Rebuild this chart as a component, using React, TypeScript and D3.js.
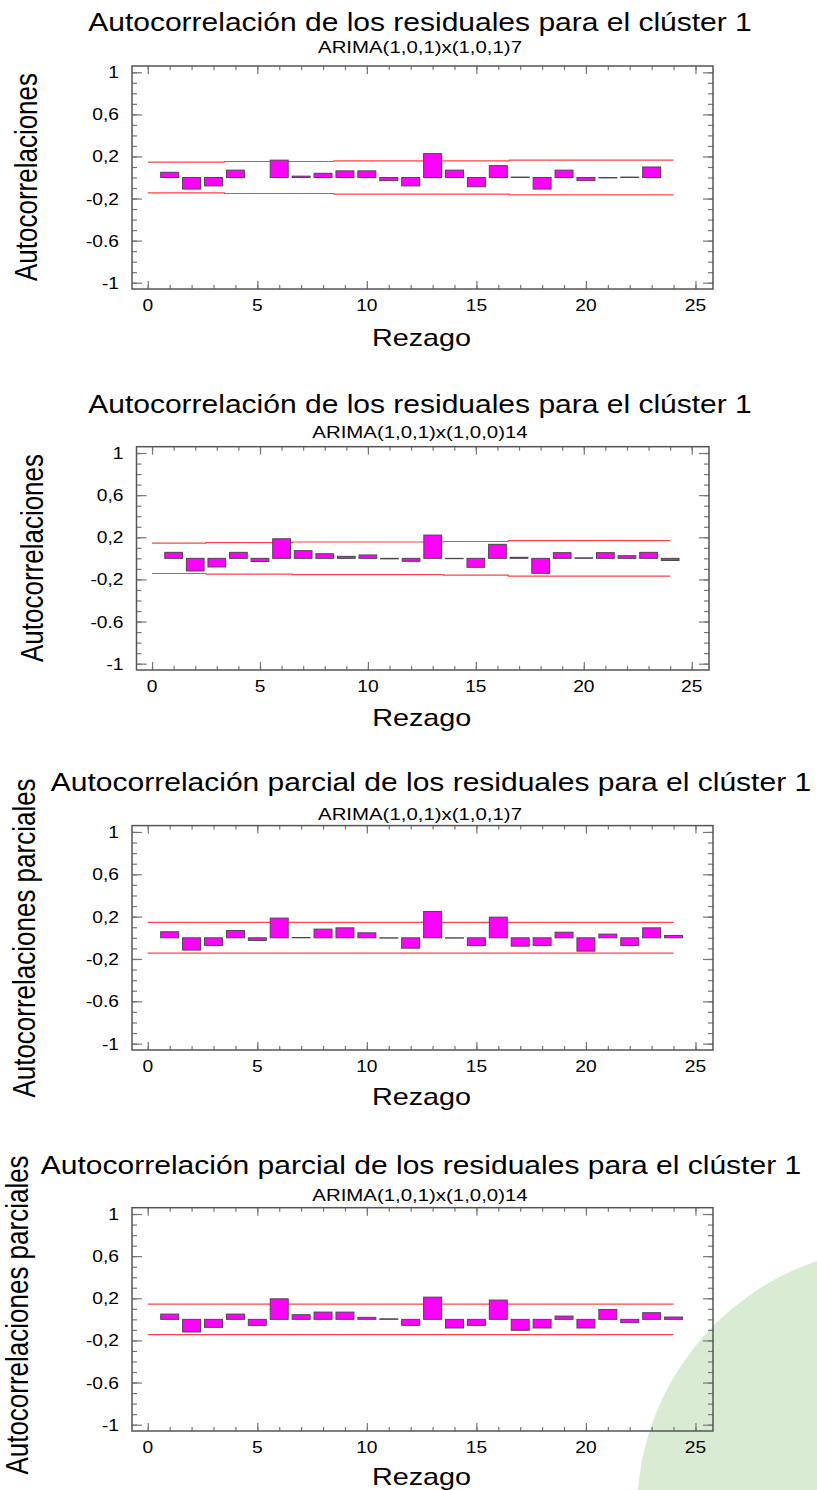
import React, { useRef, useEffect } from 'react';
import * as d3 from 'd3';

// lags 1..24
const lags = [1, 2, 3, 4, 5, 6, 7, 8, 9, 10, 11, 12, 13, 14, 15, 16, 17, 18, 19, 20, 21, 22, 23, 24];

// residual autocorrelations, ARIMA(1,0,1)x(1,0,1)7  (23 lags shown)
const acf1 = [0.05, -0.11, -0.08, 0.07, 0.0, 0.165, 0.013, 0.04, 0.063, 0.063, -0.03, -0.08, 0.227, 0.07, -0.088, 0.113, 0.004, -0.11, 0.07, -0.03, -0.004, 0.004, 0.1];
// residual autocorrelations, ARIMA(1,0,1)x(1,0,0)14
const acf2 = [0.057, -0.12, -0.082, 0.057, -0.03, 0.186, 0.073, 0.044, 0.019, 0.032, -0.005, -0.028, 0.221, -0.003, -0.085, 0.133, 0.01, -0.142, 0.054, 0.005, 0.054, 0.025, 0.057, -0.02];
// partial autocorrelations
const pacf1 = [0.057, -0.116, -0.072, 0.069, -0.025, 0.186, 0.003, 0.082, 0.094, 0.047, -0.003, -0.098, 0.248, -0.003, -0.072, 0.195, -0.079, -0.072, 0.053, -0.126, 0.035, -0.072, 0.094, 0.022];
const pacf2 = [0.05, -0.12, -0.076, 0.05, -0.057, 0.195, 0.044, 0.069, 0.069, 0.019, 0.005, -0.057, 0.211, -0.082, -0.057, 0.183, -0.104, -0.082, 0.031, -0.082, 0.094, -0.032, 0.063, 0.022];

// probability limits per lag
const lim1 = [0.146, 0.146, 0.146, 0.152, 0.152, 0.152, 0.152, 0.152, 0.158, 0.158, 0.158, 0.158, 0.158, 0.158, 0.158, 0.158, 0.166, 0.166, 0.166, 0.166, 0.166, 0.166, 0.166, 0.166];
const lim2 = [0.144, 0.144, 0.15, 0.15, 0.15, 0.15, 0.155, 0.155, 0.155, 0.155, 0.155, 0.155, 0.155, 0.16, 0.16, 0.16, 0.168, 0.168, 0.168, 0.168, 0.168, 0.168, 0.168, 0.168];
const limP = [0.145, 0.145, 0.145, 0.145, 0.145, 0.145, 0.145, 0.145, 0.145, 0.145, 0.145, 0.145, 0.145, 0.145, 0.145, 0.145, 0.145, 0.145, 0.145, 0.145, 0.145, 0.145, 0.145, 0.145];

const yTickValues = [1, 0.6, 0.2, -0.2, -0.6, -1];
const yTickLabels = ['1', '0,6', '0,2', '-0,2', '-0.6', '-1'];
const xTickValues = [0, 5, 10, 15, 20, 25];

const titleAcf = 'Autocorrelación de los residuales para el clúster 1';
const titlePacf = 'Autocorrelación parcial de los residuales para el clúster 1';
const sub1 = 'ARIMA(1,0,1)x(1,0,1)7';
const sub2 = 'ARIMA(1,0,1)x(1,0,0)14';

const panels = [
  { title: titleAcf, sub: sub1, ylab: 'Autocorrelaciones', values: acf1, limits: lim1,
    box: [132, 713, 66, 289], titleX: 420, titleY: 31, subY: 53, ylabX: 37, ylabY: 177, xlabY: 346 },
  { title: titleAcf, sub: sub2, ylab: 'Autocorrelaciones', values: acf2, limits: lim2,
    box: [136.5, 709, 446.7, 670], titleX: 420, titleY: 413, subY: 438, ylabX: 43, ylabY: 558, xlabY: 726 },
  { title: titlePacf, sub: sub1, ylab: 'Autocorrelaciones parciales', values: pacf1, limits: limP,
    box: [132, 713, 825.6, 1050], titleX: 431, titleY: 791, subY: 820, ylabX: 35, ylabY: 938, xlabY: 1105 },
  { title: titlePacf, sub: sub2, ylab: 'Autocorrelaciones parciales', values: pacf2, limits: limP,
    box: [132, 713, 1207.7, 1431], titleX: 421, titleY: 1174, subY: 1201, ylabX: 27.5, ylabY: 1315, xlabY: 1485 },
];

const SX = 1.2; // horizontal stretch of the original picture
const FONT = 'Liberation Sans, Arial, sans-serif';

const App = () => {
  const ref = useRef(null);

  useEffect(() => {
    const svg = d3.select(ref.current);
    svg.selectAll('*').remove();

    svg.append('circle')
      .attr('cx', 902).attr('cy', 1512).attr('r', 265)
      .attr('fill', '#d9ecd3');

    const text = (g, x, y, str, size, anchor, rot = false) =>
      g.append('text')
        .attr('transform', `translate(${x},${y}) scale(${SX},1)${rot ? ' rotate(-90)' : ''}`)
        .attr('text-anchor', anchor)
        .attr('font-family', FONT)
        .attr('font-size', size)
        .attr('fill', '#000')
        .text(str);

    panels.forEach((p) => {
      const [left, right, top, bottom] = p.box;
      const g = svg.append('g');

      const x = d3.scaleLinear().domain([-0.72, 25.8]).range([left, right]);
      const y = d3.scaleLinear().domain([-1.06, 1.06]).range([bottom, top]);

      // ticks on all four sides, pointing inward
      const minorY = y.ticks(20);
      const minorX = x.ticks(26).filter((d) => d >= 0);
      const addAxis = (axis, tx, ty, vals, size) => {
        const a = g.append('g')
          .attr('transform', `translate(${tx},${ty})`)
          .call(axis.tickValues(vals).tickSize(size).tickFormat(''));
        a.select('.domain').remove();
        a.selectAll('line').attr('stroke', '#777').attr('stroke-width', 1.2);
      };
      addAxis(d3.axisLeft(y), left, 0, minorY, -5);
      addAxis(d3.axisLeft(y), left, 0, yTickValues, -10);
      addAxis(d3.axisRight(y), right, 0, minorY, -5);
      addAxis(d3.axisRight(y), right, 0, yTickValues, -10);
      addAxis(d3.axisBottom(x), 0, bottom, minorX, -4);
      addAxis(d3.axisBottom(x), 0, bottom, xTickValues, -8);
      addAxis(d3.axisTop(x), 0, top, minorX, -4);
      addAxis(d3.axisTop(x), 0, top, xTickValues, -8);

      // frame
      g.append('rect')
        .attr('x', left).attr('y', top)
        .attr('width', right - left).attr('height', bottom - top)
        .attr('fill', 'none').attr('stroke', '#555').attr('stroke-width', 1.5);

      // probability limits
      const pts = p.limits.map((v, i) => [i === 0 ? 0 : lags[i] - 0.5, v]);
      pts.push([24, p.limits[p.limits.length - 1]]);
      const step = d3.line().curve(d3.curveStepAfter).x((d) => x(d[0]));
      g.append('path').attr('d', step.y((d) => y(d[1]))(pts))
        .attr('fill', 'none').attr('stroke', '#f44').attr('stroke-width', 1.2);
      g.append('path').attr('d', step.y((d) => y(-d[1]))(pts))
        .attr('fill', 'none').attr('stroke', '#f44').attr('stroke-width', 1.2);

      // bars
      const bw = 0.82;
      g.selectAll('rect.bar')
        .data(p.values)
        .enter()
        .append('rect')
        .attr('class', 'bar')
        .attr('x', (d, i) => x(lags[i] - bw / 2))
        .attr('width', x(bw) - x(0))
        .attr('y', (d) => y(Math.max(d, 0)))
        .attr('height', (d) => Math.abs(y(d) - y(0)))
        .attr('fill', '#ff00ff')
        .attr('stroke', '#4a4a4a')
        .attr('stroke-width', 1);

      // tick labels
      yTickValues.forEach((v, i) => text(g, left - 13, y(v) + 6, yTickLabels[i], 16, 'end'));
      xTickValues.forEach((v) => text(g, x(v), bottom + 22, String(v), 16, 'middle'));

      // titles and axis labels
      text(g, p.titleX, p.titleY, p.title, 25, 'middle');
      text(g, 420, p.subY, p.sub, 17, 'middle');
      text(g, (left + right) / 2 - 1, p.xlabY, 'Rezago', 24, 'middle');
      text(g, p.ylabX, p.ylabY, p.ylab, 26, 'middle', true);
    });
  }, []);

  return (
    <div style={{ position: 'absolute', left: 0, top: 0 }}>
      <svg ref={ref} width={817} height={1490} style={{ display: 'block', background: '#fff' }}></svg>
    </div>
  );
};

export default App;
